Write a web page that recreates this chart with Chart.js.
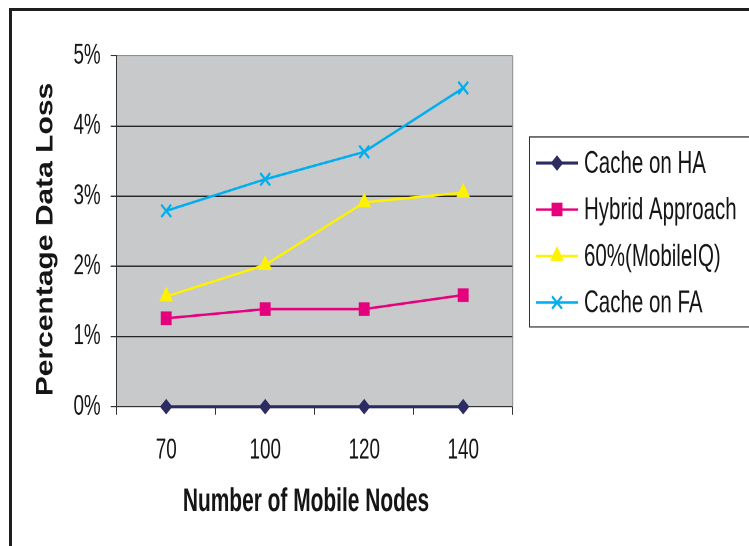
<!DOCTYPE html>
<html>
<head>
<meta charset="utf-8">
<title>Percentage Data Loss vs Number of Mobile Nodes</title>
<script src="https://cdn.jsdelivr.net/npm/chart.js@4/dist/chart.umd.min.js"></script>
<style>
  html, body { margin: 0; padding: 0; background: #fff; overflow: hidden; }
  #page { position: relative; width: 749px; height: 546px; overflow: hidden; background: #fff; }
  #frame { position: absolute; left: 9px; top: 8px; width: 800px; height: 600px;
           border-left: 3px solid #1e1e1e; border-top: 3px solid #1e1e1e; }
  /* the chart is laid out on a shorter stage and stretched vertically */
  #stage { position: absolute; left: 0; top: 0; width: 749px; height: 437px;
           transform: scaleY(1.2494); transform-origin: 0 0; }
</style>
</head>
<body>
<div id="page">
  <div id="frame"></div>
  <div id="stage"><canvas id="chart"></canvas></div>
</div>
<script>
// Number of mobile nodes (x categories)
const nodeCounts = ['70', '100', '120', '140'];

// Percentage data loss per approach
const cacheOnHA      = [0, 0, 0, 0];
const hybridApproach = [1.26, 1.39, 1.39, 1.59];
const mobileIQ60     = [1.57, 2.02, 2.91, 3.05];
const cacheOnFA      = [2.79, 3.24, 3.63, 4.54];

// y axis range (percent)
const yMin = 0, yMax = 5, yStep = 1;

const SANS = "'Liberation Sans', Arial, sans-serif";
// horizontal text is drawn condensed (narrow face look)
const TEXT_SQUEEZE = 0.82;

const canvas = document.getElementById('chart');
const ctx2d = canvas.getContext('2d');
const baseFillText = ctx2d.fillText;
ctx2d.fillText = function (text, x, y, maxWidth) {
  const m = this.getTransform();
  if (Math.abs(m.b) > 1e-6 || Math.abs(m.c) > 1e-6) {
    // rotated text (y axis title) keeps its normal width
    return maxWidth === undefined ? baseFillText.call(this, text, x, y)
                                  : baseFillText.call(this, text, x, y, maxWidth);
  }
  this.save();
  this.translate(x, y);
  this.scale(TEXT_SQUEEZE, 1);
  if (maxWidth === undefined) baseFillText.call(this, text, 0, 0);
  else baseFillText.call(this, text, 0, 0, maxWidth / TEXT_SQUEEZE);
  this.restore();
};

// gray plot area with a light frame on the right edge
const plotBackdrop = {
  id: 'plotBackdrop',
  beforeDraw(chart) {
    const { ctx, chartArea: a } = chart;
    ctx.save();
    ctx.fillStyle = '#c8c9cb';
    ctx.fillRect(a.left, a.top, a.right - a.left, a.bottom - a.top);
    ctx.restore();
  },
  beforeDatasetsDraw(chart) {
    const { ctx, chartArea: a } = chart;
    ctx.save();
    ctx.strokeStyle = '#8e8e8e';
    ctx.lineWidth = 1;
    ctx.beginPath();
    ctx.moveTo(a.right, a.top);
    ctx.lineTo(a.right, a.bottom);
    ctx.stroke();
    ctx.restore();
  }
};

// boxed legend with line + marker samples
const legendBox = {
  id: 'legendBox',
  afterDraw(chart) {
    const ctx = chart.ctx;
    const boxLeft = 529.5, boxTop = 109.65, boxBottom = 261.7;
    const rows = [130.5, 167.7, 204.9, 242.1];
    ctx.save();
    ctx.strokeStyle = '#333';
    ctx.lineWidth = 1;
    ctx.strokeRect(boxLeft, boxTop, 260, boxBottom - boxTop);
    chart.data.datasets.forEach((ds, i) => {
      const y = rows[i];
      ctx.strokeStyle = ds.borderColor;
      ctx.lineWidth = ds.borderWidth;
      ctx.beginPath();
      ctx.moveTo(536, y);
      ctx.lineTo(578, y);
      ctx.stroke();
      ctx.fillStyle = ds.pointBackgroundColor;
      ctx.strokeStyle = ds.pointBorderColor;
      ctx.lineWidth = ds.pointBorderWidth;
      Chart.helpers.drawPoint(ctx, {
        pointStyle: ds.pointStyle, rotation: 0,
        radius: ds.pointRadius, borderWidth: ds.pointBorderWidth
      }, 557, y);
      ctx.fillStyle = '#151515';
      ctx.font = '25px ' + SANS;
      ctx.textAlign = 'left';
      ctx.textBaseline = 'middle';
      ctx.fillText(ds.label, 584, y + 1);
    });
    ctx.restore();
  }
};

function series(label, data, color, style, radius, lineWidth, markerLine) {
  return {
    label, data,
    borderColor: color, backgroundColor: color,
    borderWidth: lineWidth,
    pointStyle: style, pointRadius: radius, pointHoverRadius: radius,
    pointBackgroundColor: color, pointBorderColor: color,
    pointBorderWidth: markerLine,
    tension: 0, clip: false
  };
}

new Chart(canvas, {
  type: 'line',
  data: {
    labels: nodeCounts,
    datasets: [
      series('Cache on HA', cacheOnHA, '#2c2c62', 'rectRot', 5.5, 2.5, 1),
      series('Hybrid Approach', hybridApproach, '#e5007d', 'rect', 7, 2, 1),
      series('60%(MobileIQ)', mobileIQ60, '#fff200', 'triangle', 7, 2, 1),
      series('Cache on FA', cacheOnFA, '#00aeef', 'crossRot', 7, 2, 2)
    ]
  },
  options: {
    responsive: true,
    maintainAspectRatio: false,
    animation: false,
    devicePixelRatio: 2,
    layout: { padding: { left: 0, top: 44.58, right: 236.3, bottom: 11.5 } },
    plugins: { legend: { display: false }, tooltip: { enabled: false } },
    scales: {
      x: {
        type: 'category',
        offset: true,
        afterFit(scale) { scale.height = 100; },
        grid: {
          offset: true, drawOnChartArea: false, drawTicks: true,
          tickLength: 6.4, color: '#333', lineWidth: 1
        },
        border: { display: true, color: '#333', width: 1 },
        ticks: {
          color: '#151515', padding: 15, maxRotation: 0,
          font: { family: SANS, size: 23 }
        },
        title: {
          display: true, text: 'Number of Mobile Nodes   ', color: '#151515',
          padding: { top: 0, bottom: 8 },
          font: { family: SANS, size: 25.5, weight: 'bold' }
        }
      },
      y: {
        min: yMin, max: yMax,
        afterFit(scale) { scale.width = 116.7; },
        grid: {
          drawTicks: true, tickLength: 6, lineWidth: 1,
          color: (c) => (c.tick && c.tick.value === yMax ? '#8e8e8e' : '#262626'),
          tickColor: '#333'
        },
        border: { display: true, color: '#333', width: 1 },
        ticks: {
          stepSize: yStep, color: '#151515', padding: 10,
          font: { family: SANS, size: 23 },
          callback: (v) => v + '%'
        },
        title: {
          display: true, text: 'Percentage Data Loss  ', color: '#151515',
          padding: { top: 31.6, bottom: 0 },
          font: { family: SANS, size: 24, weight: 'bold' }
        }
      }
    }
  },
  plugins: [plotBackdrop, legendBox]
});
</script>
</body>
</html>
